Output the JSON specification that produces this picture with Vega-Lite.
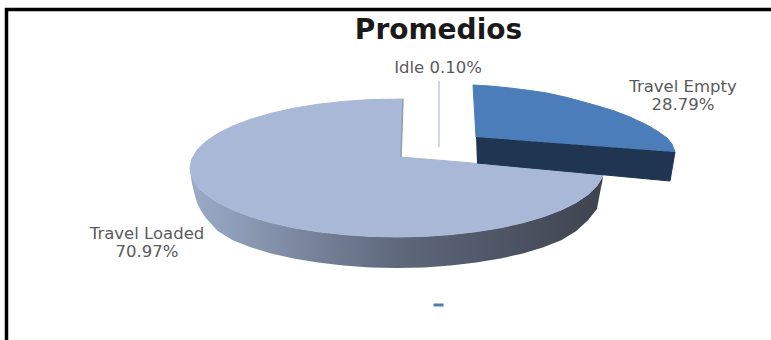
{
  "$schema": "https://vega.github.io/schema/vega-lite/v6.json",
  "width": 771,
  "height": 340,
  "padding": 0,
  "autosize": "none",
  "background": "white",
  "view": {"stroke": null},
  "title": {"text": "Promedios", "anchor": "middle", "dx": 53, "dy": 45, "offset": 0, "font": "DejaVu Sans", "fontSize": 28, "fontWeight": "bold", "color": "#1a1a1a"},
  "datasets": {
    "frame": [
      {"x": 5, "y": 9.5, "x2": 771, "y2": 9.5},
      {"x": 6.5, "y": 8, "x2": 6.5, "y2": 340}
    ],
    "loadedWall": [
      {"x": 190, "y": 168, "y2": 170},
      {"x": 191.8, "y": 177, "y2": 183},
      {"x": 195, "y": 180, "y2": 196},
      {"x": 197.1, "y": 185.9, "y2": 203},
      {"x": 200, "y": 189.5, "y2": 209},
      {"x": 205.8, "y": 194.4, "y2": 218},
      {"x": 217.7, "y": 202.5, "y2": 231},
      {"x": 232.8, "y": 210, "y2": 240.3},
      {"x": 250.6, "y": 216.8, "y2": 247.3},
      {"x": 271, "y": 222.7, "y2": 253.4},
      {"x": 293.5, "y": 227.8, "y2": 258.6},
      {"x": 317.8, "y": 231.7, "y2": 262.6},
      {"x": 343.4, "y": 234.6, "y2": 265.6},
      {"x": 370, "y": 236.4, "y2": 267.4},
      {"x": 397, "y": 237, "y2": 268},
      {"x": 424, "y": 236.4, "y2": 267.4},
      {"x": 450.6, "y": 234.6, "y2": 265.6},
      {"x": 476.2, "y": 231.7, "y2": 262.6},
      {"x": 500.5, "y": 227.8, "y2": 258.6},
      {"x": 523, "y": 222.7, "y2": 253.4},
      {"x": 543.4, "y": 216.8, "y2": 247.3},
      {"x": 561.2, "y": 210, "y2": 240.3},
      {"x": 576.3, "y": 202.5, "y2": 231},
      {"x": 588.2, "y": 194.4, "y2": 220},
      {"x": 596.9, "y": 185.9, "y2": 209},
      {"x": 600.9, "y": 180, "y2": 188},
      {"x": 602.2, "y": 177, "y2": 182},
      {"x": 603.2, "y": 174, "y2": 175}
    ],
    "loadedTop": [
      {"i": 0, "x": 401, "y": 157},
      {"i": 1, "x": 603.2, "y": 174},
      {"i": 2, "x": 602.2, "y": 177},
      {"i": 3, "x": 596.9, "y": 185.9},
      {"i": 4, "x": 588.2, "y": 194.4},
      {"i": 5, "x": 576.3, "y": 202.5},
      {"i": 6, "x": 561.2, "y": 210},
      {"i": 7, "x": 543.4, "y": 216.8},
      {"i": 8, "x": 523, "y": 222.7},
      {"i": 9, "x": 500.5, "y": 227.8},
      {"i": 10, "x": 476.2, "y": 231.7},
      {"i": 11, "x": 450.6, "y": 234.6},
      {"i": 12, "x": 424, "y": 236.4},
      {"i": 13, "x": 397, "y": 237},
      {"i": 14, "x": 370, "y": 236.4},
      {"i": 15, "x": 343.4, "y": 234.6},
      {"i": 16, "x": 317.8, "y": 231.7},
      {"i": 17, "x": 293.5, "y": 227.8},
      {"i": 18, "x": 271, "y": 222.7},
      {"i": 19, "x": 250.6, "y": 216.8},
      {"i": 20, "x": 232.8, "y": 210},
      {"i": 21, "x": 217.7, "y": 202.5},
      {"i": 22, "x": 205.8, "y": 194.4},
      {"i": 23, "x": 197.1, "y": 185.9},
      {"i": 24, "x": 191.8, "y": 177},
      {"i": 25, "x": 190, "y": 168},
      {"i": 26, "x": 191.8, "y": 159},
      {"i": 27, "x": 197.1, "y": 150.1},
      {"i": 28, "x": 205.8, "y": 141.6},
      {"i": 29, "x": 217.7, "y": 133.5},
      {"i": 30, "x": 232.8, "y": 126},
      {"i": 31, "x": 250.6, "y": 119.2},
      {"i": 32, "x": 271, "y": 113.3},
      {"i": 33, "x": 293.5, "y": 108.2},
      {"i": 34, "x": 317.8, "y": 104.3},
      {"i": 35, "x": 343.4, "y": 101.4},
      {"i": 36, "x": 370, "y": 99.6},
      {"i": 37, "x": 403, "y": 99}
    ],
    "loadedCut": [
      {"i": 0, "x": 403, "y": 99},
      {"i": 1, "x": 401, "y": 157}
    ],
    "idleSlice": [
      {"i": 0, "x": 439, "y": 81},
      {"i": 1, "x": 439, "y": 147}
    ],
    "emptyWall": [
      {"i": 0, "x": 476, "y": 137},
      {"i": 1, "x": 675, "y": 152},
      {"i": 2, "x": 670, "y": 181},
      {"i": 3, "x": 477, "y": 163}
    ],
    "emptyTop": [
      {"i": 0, "x": 476, "y": 137},
      {"i": 1, "x": 473, "y": 85},
      {"i": 2, "x": 490, "y": 86},
      {"i": 3, "x": 510, "y": 88},
      {"i": 4, "x": 530, "y": 90.5},
      {"i": 5, "x": 547, "y": 93},
      {"i": 6, "x": 565, "y": 97},
      {"i": 7, "x": 582, "y": 101.5},
      {"i": 8, "x": 598, "y": 106},
      {"i": 9, "x": 613, "y": 110.5},
      {"i": 10, "x": 630, "y": 117},
      {"i": 11, "x": 647, "y": 125},
      {"i": 12, "x": 658, "y": 131.5},
      {"i": 13, "x": 667, "y": 138},
      {"i": 14, "x": 672, "y": 144},
      {"i": 15, "x": 675, "y": 152}
    ],
    "legendDash": [
      {"i": 0, "x": 433.5, "y": 305},
      {"i": 1, "x": 443.5, "y": 305}
    ],
    "labels": [
      {"x": 683, "y": 87, "label": "Travel Empty"},
      {"x": 683, "y": 105, "label": "28.79%"},
      {"x": 438, "y": 68, "label": "Idle 0.10%"},
      {"x": 147, "y": 234, "label": "Travel Loaded"},
      {"x": 147, "y": 252, "label": "70.97%"}
    ]
  },
  "encoding": {
    "x": {"field": "x", "type": "quantitative", "scale": {"domain": [0, 771], "nice": false, "zero": false}, "axis": null},
    "y": {"field": "y", "type": "quantitative", "scale": {"domain": [340, 0], "nice": false, "zero": false}, "axis": null}
  },
  "layer": [
    {
      "data": {"name": "loadedWall"},
      "mark": {
        "type": "area",
        "fill": {"x1": 0, "x2": 1, "y1": 0, "y2": 0, "gradient": "linear", "stops": [
          {"offset": 0, "color": "#9babc8"},
          {"offset": 0.5, "color": "#5f687c"},
          {"offset": 1, "color": "#3e434f"}
        ]}
      },
      "encoding": {"y2": {"field": "y2"}}
    },
    {
      "data": {"name": "loadedTop"},
      "mark": {"type": "line", "fill": "#a9b8d6", "stroke": "#a9b8d6", "strokeWidth": 1},
      "encoding": {"order": {"field": "i", "type": "quantitative"}}
    },
    {
      "data": {"name": "loadedCut"},
      "mark": {"type": "line", "stroke": "#8e9db8", "strokeWidth": 1.5},
      "encoding": {"order": {"field": "i", "type": "quantitative"}}
    },
    {
      "data": {"name": "idleSlice"},
      "mark": {"type": "line", "stroke": "#bccae0", "strokeWidth": 1.5},
      "encoding": {"order": {"field": "i", "type": "quantitative"}}
    },
    {
      "data": {"name": "emptyWall"},
      "mark": {"type": "line", "fill": "#1f3552", "stroke": "#1f3552", "strokeWidth": 1},
      "encoding": {"order": {"field": "i", "type": "quantitative"}}
    },
    {
      "data": {"name": "emptyTop"},
      "mark": {"type": "line", "fill": "#4a7dba", "stroke": "#4a7dba", "strokeWidth": 1},
      "encoding": {"order": {"field": "i", "type": "quantitative"}}
    },
    {
      "data": {"name": "legendDash"},
      "mark": {"type": "line", "stroke": "#4f7bb0", "strokeWidth": 3},
      "encoding": {"order": {"field": "i", "type": "quantitative"}}
    },
    {
      "data": {"name": "frame"},
      "mark": {"type": "rule", "stroke": "#000000", "strokeWidth": 3.5},
      "encoding": {"x2": {"field": "x2"}, "y2": {"field": "y2"}}
    },
    {
      "data": {"name": "labels"},
      "mark": {"type": "text", "font": "DejaVu Sans", "fontSize": 16.5, "color": "#5a5a5a", "align": "center", "baseline": "middle"},
      "encoding": {"text": {"field": "label"}}
    }
  ]
}
